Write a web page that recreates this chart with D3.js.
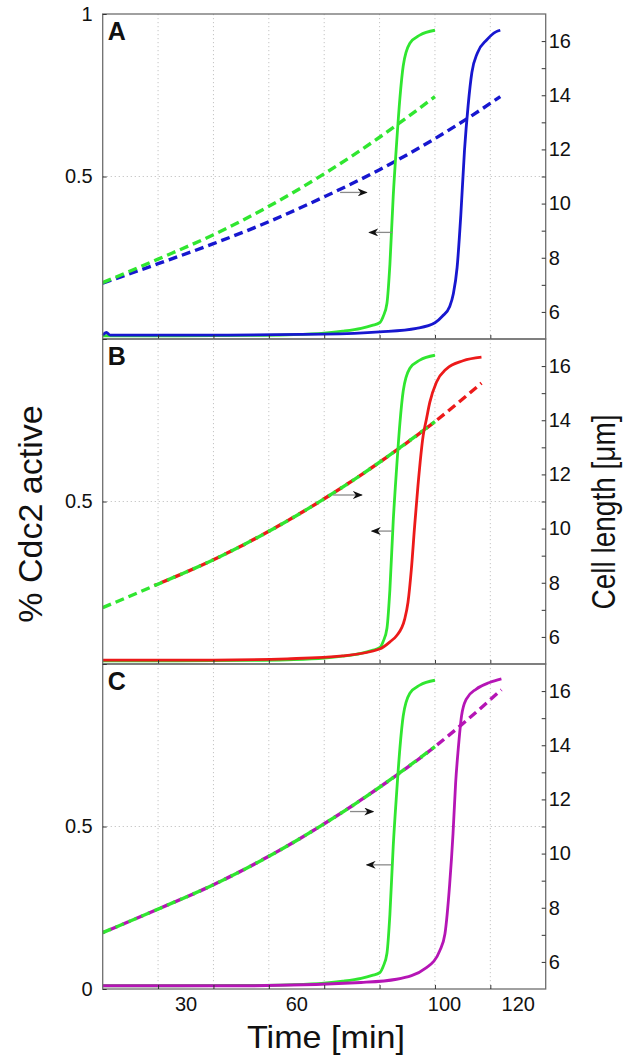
<!DOCTYPE html>
<html>
<head>
<meta charset="utf-8">
<script src="https://cdn.jsdelivr.net/npm/d3@7"></script>
<style>
  body { margin: 0; background: #fff; }
  text { font-family: "Liberation Sans", Arial, sans-serif; fill: #111; }
</style>
</head>
<body>
<div id="chart"></div>
<script>
// values (time in min, activity 0-1, length in um)
const panelNames = ["A", "B", "C"];
const timeLabels = [30, 60, 100, 120];
const gridTimes = [25, 40, 55, 70, 85, 100, 115];
const activityTicks = [0, 0.5, 1];
const lengthTicks = [6, 7, 8, 9, 10, 11, 12, 13, 14, 15, 16];

// wild type (green), same in all three panels
const wtActivity = [[10,0.01],[30,0.01],[50,0.011],[60,0.013],[70,0.018],[75,0.024],[80,0.033],[83,0.042],[85,0.05],[86,0.07],[87,0.11],[87.8,0.23],[88.7,0.44],[89.6,0.6],[90.5,0.74],[91.4,0.84],[93.2,0.91],[95.9,0.935],[100,0.95]];
const wtLength = [[10,7.08],[25,7.95],[40,8.85],[55,9.9],[70,11.1],[85,12.45],[100,13.95]];

// panel A (blue)
const blueActivity = [[10,0.012],[11,0.02],[12,0.012],[40,0.012],[70,0.015],[85,0.022],[95,0.033],[100,0.05],[102,0.07],[104,0.1],[105,0.14],[106,0.22],[107,0.38],[108,0.58],[109,0.72],[110,0.82],[111.5,0.88],[114,0.92],[116.5,0.945],[117.7,0.95]];
const blueLength = [[10,7.06],[25,7.78],[40,8.52],[55,9.33],[70,10.25],[85,11.25],[100,12.4],[110,13.25],[117.7,13.95]];

// panel B (red)
const redActivity = [[10,0.012],[40,0.012],[60,0.016],[75,0.025],[85,0.046],[88,0.07],[89.6,0.087],[91.8,0.138],[92.7,0.19],[93.6,0.29],[94.5,0.425],[95.4,0.549],[96.8,0.702],[97.7,0.754],[98.6,0.805],[100.4,0.867],[103.1,0.908],[107.6,0.933],[112.6,0.944]];
const redLength = [[24,7.9],[40,8.85],[55,9.9],[70,11.1],[85,12.45],[100,13.95],[112.6,15.37]];

// panel C (magenta)
const magentaActivity = [[10,0.01],[50,0.01],[80,0.02],[89.6,0.03],[97.7,0.066],[101.3,0.118],[102.7,0.169],[104,0.324],[104.9,0.479],[105.6,0.634],[106.3,0.737],[107.2,0.84],[108.5,0.892],[111.2,0.923],[114.8,0.943],[118,0.954]];
const magentaLength = [[10,7.08],[25,7.95],[40,8.85],[55,9.9],[70,11.1],[85,12.45],[100,13.95],[108,14.85],[118,16.05]];

// arrows: [t from, t to, activity level]
const rightArrows = [[74.3,81.5,0.451],[72.4,80.2,0.52],[77,83.3,0.546]];
const leftArrows = [[88.5,82.2,0.328],[88.3,82.9,0.409],[88.3,81.5,0.382]];

const mutants = [
  {act: blueActivity, len: blueLength, color: "#1717cf"},
  {act: redActivity, len: redLength, color: "#ec1a1a"},
  {act: magentaActivity, len: magentaLength, color: "#b515b5"}
];
const wtColor = "#30e630";

const svg_width = 632, svg_height = 1056;
const plotLeft = 102.7, plotRight = 545.7, plotTop = 14, panelH = 325;

const svg = d3.select("#chart").append("svg")
  .attr("width", svg_width).attr("height", svg_height);

svg.append("defs").append("marker")
  .attr("id", "head").attr("viewBox", "0 0 10 8")
  .attr("refX", 9).attr("refY", 4)
  .attr("markerWidth", 10).attr("markerHeight", 8)
  .attr("markerUnits", "userSpaceOnUse").attr("orient", "auto")
  .append("path").attr("d", "M0,0 L10,4 L0,8 L3,4 Z").attr("fill", "#111");

const x = d3.scaleLinear([10, 130], [plotLeft, plotRight]);

panelNames.forEach(function(name, i){
  const top = plotTop + i * panelH, bottom = top + panelH;
  const yL = d3.scaleLinear([0, 1], [bottom, top]);
  const yR = d3.scaleLinear([5, 17], [bottom, top]);
  const g = svg.append("g");

  // dotted grid
  g.selectAll(".vgrid").data(gridTimes).enter().append("line")
    .attr("x1", d => x(d)).attr("x2", d => x(d)).attr("y1", top).attr("y2", bottom)
    .attr("stroke", "#c4c4c4").attr("stroke-dasharray", "1.2,2.8");
  g.append("line").attr("x1", plotLeft).attr("x2", plotRight)
    .attr("y1", yL(0.5)).attr("y2", yL(0.5))
    .attr("stroke", "#c4c4c4").attr("stroke-dasharray", "1.2,2.8");

  const lineL = d3.line().x(d => x(d[0])).y(d => yL(d[1])).curve(d3.curveMonotoneX);
  const lineR = d3.line().x(d => x(d[0])).y(d => yR(d[1])).curve(d3.curveMonotoneX);
  const m = mutants[i];

  g.append("path").attr("d", lineR(m.len)).attr("fill", "none")
    .attr("stroke", m.color).attr("stroke-width", 3.4)
    .attr("stroke-dasharray", "9,5").attr("stroke-dashoffset", i == 0 ? 0 : 7);
  g.append("path").attr("d", lineR(wtLength)).attr("fill", "none")
    .attr("stroke", wtColor).attr("stroke-width", 3.4).attr("stroke-dasharray", "9,5");
  g.append("path").attr("d", lineL(wtActivity)).attr("fill", "none")
    .attr("stroke", wtColor).attr("stroke-width", 2.8);
  g.append("path").attr("d", lineL(m.act)).attr("fill", "none")
    .attr("stroke", m.color).attr("stroke-width", 2.8);

  // arrows pointing to the axis each curve belongs to
  [rightArrows[i], leftArrows[i]].forEach(function(a){
    g.append("line").attr("x1", x(a[0])).attr("x2", x(a[1]))
      .attr("y1", yL(a[2])).attr("y2", yL(a[2]))
      .attr("stroke", "#8a8a8a").attr("stroke-width", 1.3)
      .attr("marker-end", "url(#head)");
  });

  g.append("rect").attr("x", plotLeft).attr("y", top)
    .attr("width", plotRight - plotLeft).attr("height", panelH)
    .attr("fill", "none").attr("stroke", "#6e6e6e").attr("stroke-width", 1.3);

  const bottomAxis = d3.axisBottom(x).tickValues(gridTimes).tickSizeInner(-4).tickSizeOuter(0).tickFormat("");
  g.append("g").attr("transform", `translate(0,${bottom})`).call(bottomAxis);

  const leftAxis = d3.axisLeft(yL).tickValues(activityTicks).tickSizeInner(-4).tickSizeOuter(0).tickPadding(10)
    .tickFormat(d => (i == 0 && d == 0) || (i == 2 && d == 1) || (i == 1 && d != 0.5) ? "" : d3.format("")(d));
  g.append("g").attr("transform", `translate(${plotLeft},0)`).call(leftAxis);

  const rightAxis = d3.axisRight(yR).tickValues(lengthTicks).tickSizeInner(-4).tickSizeOuter(0).tickPadding(3)
    .tickFormat(d => d % 2 == 0 ? d : "");
  g.append("g").attr("transform", `translate(${plotRight},0)`).call(rightAxis);

  g.selectAll(".domain").remove();
  g.selectAll(".tick line").attr("stroke", "#333");
  g.selectAll(".tick text").attr("font-size", 20).attr("fill", "#111")
    .attr("font-family", "Liberation Sans, Arial, sans-serif");

  g.append("text").attr("x", plotLeft + 5).attr("y", top + 26)
    .attr("font-size", 25).attr("font-weight", "bold").text(name);

  if (i == 2) {
    const timeAxis = d3.axisBottom(x).tickValues(timeLabels).tickSize(0).tickPadding(8);
    const ta = g.append("g").attr("transform", `translate(0,${bottom})`).call(timeAxis);
    ta.select(".domain").remove();
    ta.selectAll("text").attr("font-size", 20).attr("dx", 9).attr("fill", "#111")
      .attr("font-family", "Liberation Sans, Arial, sans-serif");
  }
});

svg.append("text").attr("transform", "translate(42,514) rotate(-90)")
  .attr("text-anchor", "middle").attr("font-size", 34).text("% Cdc2 active");
svg.append("text").attr("transform", "translate(615,512) rotate(-90)")
  .attr("text-anchor", "middle").attr("font-size", 34)
  .attr("textLength", 195).attr("lengthAdjust", "spacingAndGlyphs").text("Cell length [μm]");
svg.append("text").attr("x", 326).attr("y", 1048)
  .attr("text-anchor", "middle").attr("font-size", 32)
  .attr("textLength", 158).attr("lengthAdjust", "spacingAndGlyphs").text("Time [min]");
</script>
</body>
</html>
